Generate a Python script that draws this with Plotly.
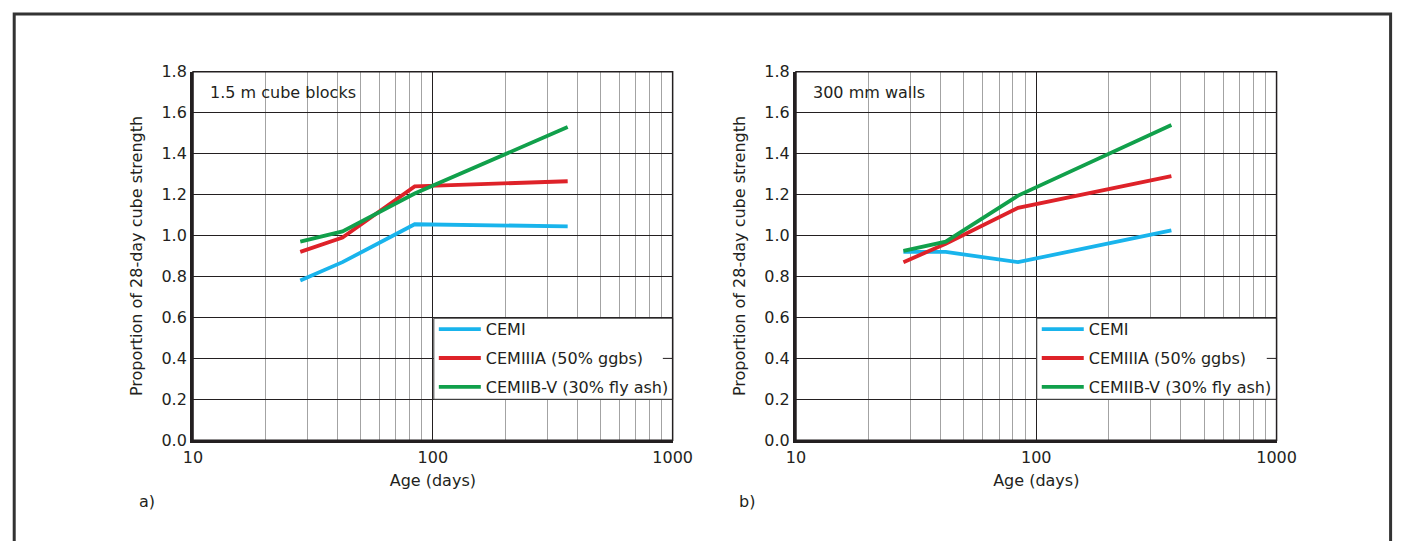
import plotly.graph_objects as go

# ---------------- data ----------------
age_days = [28, 42, 84, 365]
series_names = ["CEMI", "CEMIIIA (50% ggbs)", "CEMIIB-V (30% fly ash)"]
series_colors = ["#19b4ec", "#de2229", "#11a04b"]

blocks_cemi = [0.78, 0.87, 1.055, 1.045]
blocks_cemiiia = [0.92, 0.99, 1.24, 1.265]
blocks_cemiibv = [0.97, 1.02, 1.205, 1.53]

walls_cemi = [0.92, 0.92, 0.87, 1.025]
walls_cemiiia = [0.87, 0.96, 1.135, 1.29]
walls_cemiibv = [0.925, 0.97, 1.195, 1.54]

panel_titles = ["1.5 m cube blocks", "300 mm walls"]
panel_labels = ["a)", "b)"]
x_tickvals = [10, 100, 1000]
x_ticktext = ["10", "100", "1000"]
y_tickvals = [0.0, 0.2, 0.4, 0.6, 0.8, 1.0, 1.2, 1.4, 1.6, 1.8]

# ---------------- layout constants ----------------
W, H = 1415, 541
FONT = "DejaVu Sans"
INK = "#231f20"

def px_x(px):
    return px / W

def px_y(py):
    return (H - py) / H

fig = go.Figure()

panels = [
    (["x", "y"], [blocks_cemi, blocks_cemiiia, blocks_cemiibv], "legend"),
    (["x2", "y2"], [walls_cemi, walls_cemiiia, walls_cemiibv], "legend2"),
]
for (xa, ya), vals, leg in panels:
    for name, color, v in zip(series_names, series_colors, vals):
        fig.add_trace(go.Scatter(
            x=age_days, y=v, mode="lines", name=name,
            line=dict(color=color, width=3.8),
            xaxis=xa, yaxis=ya, legend=leg, legendgroup=leg + name,
            hoverinfo="skip",
        ))

plot_left = [187, 803]
plot_right = [677, 1294]
x_domains = [[px_x(l), px_x(r)] for l, r in zip(plot_left, plot_right)]
y_domain = [px_y(447), px_y(65)]

def xaxis_cfg(dom, anchor):
    return dict(
        type="log", range=[1, 3], domain=dom, anchor=anchor,
        tickvals=x_tickvals, ticktext=x_ticktext, ticks="",
        showgrid=True, gridcolor=INK, gridwidth=1,
        minor=dict(dtick="D1", showgrid=True, gridcolor="#a3a3a3", gridwidth=1, ticks=""),
        showline=True, linecolor=INK, linewidth=3,
        tickfont=dict(family=FONT, size=16, color=INK),
        title=dict(text="Age (days)", font=dict(family=FONT, size=16, color=INK), standoff=10),
        zeroline=False,
    )

def yaxis_cfg(anchor):
    return dict(
        range=[0, 1.8], domain=y_domain, anchor=anchor,
        tickvals=y_tickvals, tickformat=".1f", ticks="",
        showgrid=True, gridcolor=INK, gridwidth=1,
        showline=True, linecolor=INK, linewidth=3,
        tickfont=dict(family=FONT, size=16, color=INK),
        title=dict(text="Proportion of 28-day cube strength",
                   font=dict(family=FONT, size=16, color=INK), standoff=15),
        zeroline=False,
    )

legend_cfg = dict(
    bgcolor="rgba(0,0,0,0)", borderwidth=0,
    font=dict(family=FONT, size=16, color=INK),
    yanchor="middle", xanchor="left", tracegroupgap=5,
    traceorder="grouped", itemwidth=42,
)

fig.update_layout(
    width=W, height=H,
    margin=dict(l=0, r=0, t=0, b=0),
    paper_bgcolor="white", plot_bgcolor="white",
    showlegend=True,
    xaxis=xaxis_cfg(x_domains[0], "y"),
    yaxis=yaxis_cfg("x"),
    xaxis2=xaxis_cfg(x_domains[1], "y2"),
    yaxis2=yaxis_cfg("x2"),
    legend=dict(legend_cfg, x=px_x(433), y=px_y(362)),
    legend2=dict(legend_cfg, x=px_x(1049), y=px_y(362)),
)

shapes = []
# white label boxes behind the panel titles (hide the grid there)
title_box_right = [356, 935]
for l, r in zip(plot_left, title_box_right):
    shapes.append(dict(type="rect", xref="paper", yref="paper",
                       x0=px_x(l + 1.5), x1=px_x(r), y0=px_y(100), y1=px_y(65.8),
                       fillcolor="white", line=dict(width=0), layer="between"))
# legend boxes (white, covering the grid)
legend_box_left = [433, 1049]
for l, r in zip(legend_box_left, plot_right):
    shapes.append(dict(type="rect", xref="paper", yref="paper",
                       x0=px_x(l), x1=px_x(r), y0=px_y(404.5), y1=px_y(320.5),
                       fillcolor="white", line=dict(color="#3a3a3a", width=1),
                       layer="above"))
# short piece of the 0.4 grid line visible at the right of each legend
for r, yr in zip(plot_right, ["y", "y2"]):
    shapes.append(dict(type="line", xref="paper", yref=yr,
                       x0=px_x(r - 10), x1=px_x(r), y0=0.4, y1=0.4,
                       line=dict(color=INK, width=1), layer="above"))
# thin top/right frame of each plot area
for xd in x_domains:
    shapes.append(dict(type="rect", xref="paper", yref="paper",
                       x0=xd[0], x1=xd[1], y0=y_domain[0], y1=y_domain[1],
                       line=dict(color=INK, width=1.5), layer="above"))
# outer figure border
shapes.append(dict(type="rect", xref="paper", yref="paper",
                   x0=px_x(4.3), x1=px_x(1410.5), y0=-0.05, y1=px_y(5.3),
                   line=dict(color="#333333", width=3)))
fig.update_layout(shapes=shapes)

annotations = []
for i, (title, lab) in enumerate(zip(panel_titles, panel_labels)):
    xr = "x domain" if i == 0 else "x2 domain"
    yr = "y domain" if i == 0 else "y2 domain"
    annotations.append(dict(
        text=title, xref=xr, yref=yr, x=0.028, y=0.944,
        xanchor="left", yanchor="middle", showarrow=False,
        borderpad=3,
        font=dict(family=FONT, size=16, color=INK),
    ))
    annotations.append(dict(
        text=lab, xref="paper", yref="paper",
        x=px_x(140 if i == 0 else 753), y=px_y(510),
        xanchor="center", yanchor="middle", showarrow=False,
        font=dict(family=FONT, size=16, color=INK),
    ))
fig.update_layout(annotations=annotations)

fig.write_html("out.html")
